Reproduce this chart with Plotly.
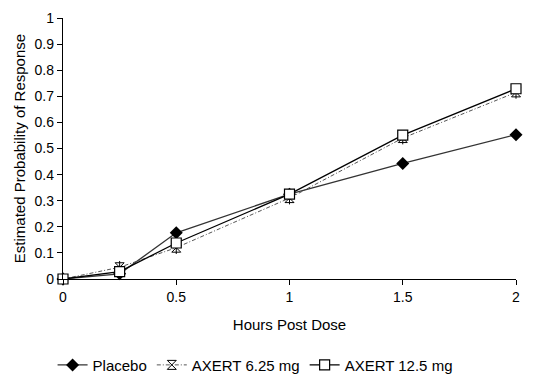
import plotly.graph_objects as go

hours = [0, 0.25, 0.5, 1, 1.5, 2]
placebo = [0, 0.02, 0.177, 0.325, 0.443, 0.553]
axert_625 = [0, 0.045, 0.12, 0.31, 0.54, 0.715]
axert_125 = [0, 0.028, 0.138, 0.325, 0.551, 0.729]
y_ticks = [0, 0.1, 0.2, 0.3, 0.4, 0.5, 0.6, 0.7, 0.8, 0.9, 1]
y_tick_labels = ["0", "0.1", "0.2", "0.3", "0.4", "0.5", "0.6", "0.7", "0.8", "0.9", "1"]
x_ticks = [0, 0.5, 1, 1.5, 2]
x_tick_labels = ["0", "0.5", "1", "1.5", "2"]

fig = go.Figure()
fig.add_trace(go.Scatter(
    x=hours, y=placebo, name="Placebo", mode="lines+markers",
    line=dict(color="#333333", width=1.3),
    marker=dict(symbol="diamond", size=10, color="black"),
    cliponaxis=False))
fig.add_trace(go.Scatter(
    x=hours, y=axert_625, name="AXERT 6.25 mg", mode="lines+markers",
    line=dict(color="#555555", width=1, dash="4px,2px,1px,2px"),
    marker=dict(symbol="hourglass-open", size=9, color="black", line=dict(color="black", width=1)),
    cliponaxis=False))
fig.add_trace(go.Scatter(
    x=hours, y=axert_625, name="AXERT 6.25 mg", mode="markers", showlegend=False,
    marker=dict(symbol="line-ns-open", size=9, color="black", line=dict(color="black", width=1)),
    cliponaxis=False))
fig.add_trace(go.Scatter(
    x=hours, y=axert_125, name="AXERT 12.5 mg", mode="lines+markers",
    line=dict(color="black", width=1.3),
    marker=dict(symbol="square", size=10, color="white", line=dict(color="black", width=1.2)),
    cliponaxis=False))

font_family = "Liberation Sans, Arial, sans-serif"
fig.update_layout(
    width=543, height=387,
    margin=dict(l=63, r=27, t=18, b=108, autoexpand=False),
    paper_bgcolor="white", plot_bgcolor="white",
    font=dict(family=font_family, size=14, color="black"),
    showlegend=True,
    legend=dict(orientation="h", x=0.424, xanchor="center", y=-0.33, yanchor="middle",
                font=dict(size=15), tracegroupgap=0),
    xaxis=dict(range=[0, 2], tickvals=x_ticks, ticktext=x_tick_labels,
               showline=True, linecolor="black", linewidth=1.3,
               ticks="outside", ticklen=5, tickcolor="black",
               tickfont=dict(size=14),
               showgrid=False, zeroline=False, automargin=False,
               title=dict(text="Hours Post Dose", standoff=15, font=dict(size=15))),
    yaxis=dict(range=[0, 1], tickvals=y_ticks, ticktext=y_tick_labels,
               showline=True, linecolor="black", linewidth=1.3,
               ticks="outside", ticklen=5, tickcolor="black",
               tickfont=dict(size=14),
               showgrid=False, zeroline=False, automargin=False,
               title=dict(text="Estimated Probability of Response", standoff=5, font=dict(size=15))),
)
fig.write_html("out.html", config={"displayModeBar": False},
               post_script="document.body.style.margin='0';")
